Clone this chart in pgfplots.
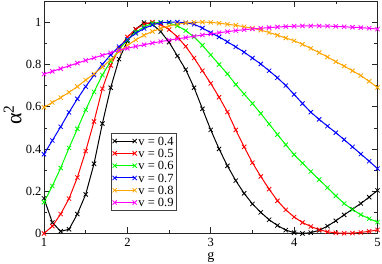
\documentclass[border=0pt]{standalone}
\usepackage{pgfplots}
\pgfplotsset{compat=1.18}
\usepackage{pgfplotstable}
\usepackage{fontspec}
\setmainfont{Liberation Serif}
\definecolor{gorange}{RGB}{255,165,0}
\definecolor{ggreen}{RGB}{0,255,0}
\definecolor{gmag}{RGB}{255,0,255}
\pgfplotstableread{
g   a4    a5    a6    a7    a8    a9
1.0 0.166 0.000 0.148 0.375 0.597 0.754
1.1 0.052 0.035 0.225 0.440 0.620 0.767
1.2 0.010 0.092 0.310 0.505 0.643 0.780
1.3 0.020 0.165 0.405 0.573 0.668 0.793
1.4 0.092 0.265 0.495 0.637 0.695 0.806
1.5 0.185 0.390 0.585 0.695 0.726 0.819
1.6 0.330 0.530 0.670 0.750 0.755 0.831
1.7 0.520 0.685 0.750 0.800 0.787 0.843
1.8 0.690 0.795 0.815 0.845 0.823 0.855
1.9 0.825 0.875 0.870 0.884 0.860 0.866
2.0 0.910 0.930 0.915 0.918 0.890 0.876
2.1 0.966 0.967 0.952 0.947 0.916 0.885
2.2 0.998 0.990 0.978 0.970 0.938 0.893
2.3 0.990 1.000 0.994 0.987 0.956 0.901
2.4 0.955 0.988 1.000 0.997 0.970 0.908
2.5 0.905 0.965 0.996 1.000 0.982 0.915
2.6 0.840 0.930 0.982 1.000 0.990 0.921
2.7 0.775 0.885 0.960 0.997 0.996 0.927
2.8 0.690 0.830 0.930 0.990 0.999 0.933
2.9 0.590 0.770 0.890 0.972 1.000 0.939
3.0 0.490 0.710 0.845 0.950 0.999 0.944
3.1 0.400 0.645 0.800 0.930 0.995 0.950
3.2 0.320 0.575 0.755 0.907 0.990 0.955
3.3 0.250 0.490 0.705 0.883 0.985 0.960
3.4 0.190 0.410 0.660 0.858 0.978 0.964
3.5 0.140 0.335 0.615 0.830 0.971 0.968
3.6 0.100 0.270 0.568 0.802 0.962 0.971
3.7 0.065 0.210 0.518 0.770 0.951 0.974
3.8 0.038 0.155 0.468 0.737 0.938 0.977
3.9 0.016 0.112 0.420 0.700 0.925 0.979
4.0 0.004 0.078 0.373 0.658 0.912 0.981
4.1 0.000 0.052 0.333 0.615 0.895 0.982
4.2 0.004 0.033 0.293 0.574 0.876 0.982
4.3 0.015 0.018 0.255 0.540 0.856 0.982
4.4 0.035 0.008 0.217 0.508 0.835 0.981
4.5 0.060 0.003 0.178 0.477 0.813 0.980
4.6 0.088 0.001 0.142 0.444 0.792 0.978
4.7 0.115 0.002 0.113 0.410 0.770 0.976
4.8 0.142 0.005 0.089 0.376 0.747 0.974
4.9 0.172 0.010 0.070 0.342 0.720 0.971
5.0 0.204 0.017 0.054 0.307 0.691 0.967
}\datatable
\begin{document}
\begin{tikzpicture}
\begin{axis}[
  at={(0pt,0pt)}, anchor=south west,
  width=333.5pt, height=232.5pt, scale only axis,
  xmin=1, xmax=5, ymin=0, ymax=1.1,
  xtick={1,2,3,4,5}, xticklabels={1,2,3,4,5},
  ytick={0,0.2,0.4,0.6,0.8,1}, yticklabels={0,0.2,0.4,0.6,0.8,1},
  minor x tick num=1, minor y tick num=1,
  tick align=inside,
  major tick length=6pt, minor tick length=3.5pt,
  tick style={black!85, line width=0.6pt},
  axis line style={black!85, line width=0.7pt},
  ticklabel style={font=\fontsize{12.5}{12.5}\selectfont},
  xticklabel style={inner sep=0pt, yshift=-4.5pt},
  yticklabel style={inner sep=0pt, xshift=-2.3pt},
  xlabel={g}, ylabel={α\textsuperscript{2}},
  xlabel style={font=\fontsize{14}{14}\selectfont, at={(axis description cs:0.5,0)}, anchor=center, yshift=-23.5pt},
  ylabel style={font=\fontsize{22}{22}\selectfont, at={(axis description cs:-0.094,0.51)}, anchor=center},
  every axis plot/.append style={line width=1pt, mark=x, mark size=3pt, mark options={solid, line width=0.8pt}},
  legend cell align=left,
  legend style={at={(rel axis cs:0.2,0.432)}, anchor=north west,
    draw=black!75, line width=0.7pt, fill=white,
    font=\fontsize{12.5}{12.5}\selectfont,
    inner sep=1.5pt, row sep=0pt,
    nodes={inner sep=1.6pt, text height=8.6pt, text depth=0.5pt}},
  legend image code/.code={\draw[#1, mark repeat=2, mark phase=1] plot coordinates {(0pt,0pt) (10pt,0pt) (20pt,0pt)};},
]
\addplot[black] table[x=g, y=a4] {\datatable};
\addlegendentry{v = 0.4}
\addplot[red] table[x=g, y=a5] {\datatable};
\addlegendentry{v = 0.5}
\addplot[ggreen] table[x=g, y=a6] {\datatable};
\addlegendentry{v = 0.6}
\addplot[blue] table[x=g, y=a7] {\datatable};
\addlegendentry{v = 0.7}
\addplot[gorange] table[x=g, y=a8] {\datatable};
\addlegendentry{v = 0.8}
\addplot[gmag] table[x=g, y=a9] {\datatable};
\addlegendentry{v = 0.9}
\end{axis}
\pgfresetboundingbox
\path[use as bounding box] (-44pt,-30.5pt) rectangle (338pt,233.5pt);
\end{tikzpicture}
\end{document}
